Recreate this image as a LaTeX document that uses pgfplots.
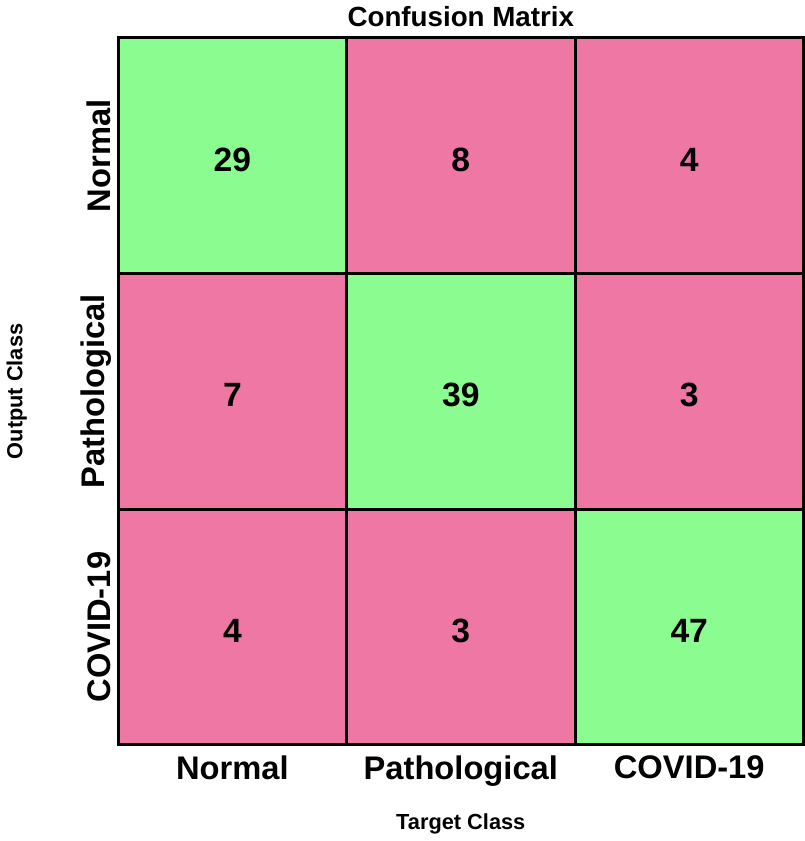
\documentclass[border=0pt]{standalone}
\usepackage{pgfplots}
\pgfplotsset{compat=1.18}
\usepackage{fontspec}
\setmainfont{Liberation Sans}
\pgfplotstableread{
x y c v
0 0 1 29
1 0 0 8
2 0 0 4
0 1 0 7
1 1 1 39
2 1 0 3
0 2 0 4
1 2 0 3
2 2 1 47
}\cm
\begin{document}
\begin{tikzpicture}
\begin{axis}[
  scale only axis,
  width=346pt, height=357pt,
  xmin=-0.5, xmax=2.5, ymin=-0.5, ymax=2.5,
  y dir=reverse,
  axis on top,
  axis line style={black, line width=1.5pt},
  colormap={cmap}{rgb255=(238,119,163) rgb255=(139,252,143)},
  point meta min=0, point meta max=1,
  xtick={0,1,2}, xticklabels={Normal,Pathological,COVID-19},
  ytick={0,1,2}, yticklabels={Normal,Pathological,COVID-19},
  major tick length=0pt,
  ticklabel style={font=\bfseries\fontsize{16.5}{18}\selectfont},
  yticklabel style={rotate=90, anchor=south, xshift=0pt},
  xticklabel style={anchor=north, yshift=-2pt},
  extra x ticks={0.5,1.5}, extra y ticks={0.5,1.5},
  extra x tick labels={}, extra y tick labels={},
  extra tick style={grid=major, major grid style={black, line width=1.5pt}, major tick length=0pt},
  title={Confusion Matrix},
  title style={font=\bfseries\fontsize{14}{16}\selectfont, at={(axis description cs:0.5,1)}, anchor=south, yshift=-4pt},
  xlabel={Target Class},
  xlabel style={font=\bfseries\fontsize{11}{13}\selectfont, at={(axis description cs:0.5,0)}, anchor=center, yshift=-40pt},
  ylabel={Output Class},
  ylabel style={font=\bfseries\fontsize{11}{13}\selectfont, at={(axis description cs:-0.148,0.5)}, anchor=center},
]
\addplot[matrix plot*, mesh/cols=3, point meta=explicit] table[x=x, y=y, meta=c] {\cm};
\addplot[only marks, mark=none, point meta=explicit symbolic,
  nodes near coords, nodes near coords style={anchor=center, yshift=-2pt, font=\bfseries\fontsize{17}{19}\selectfont}]
  table[x=x, y=y, meta=v] {\cm};
\end{axis}
\end{tikzpicture}
\end{document}
